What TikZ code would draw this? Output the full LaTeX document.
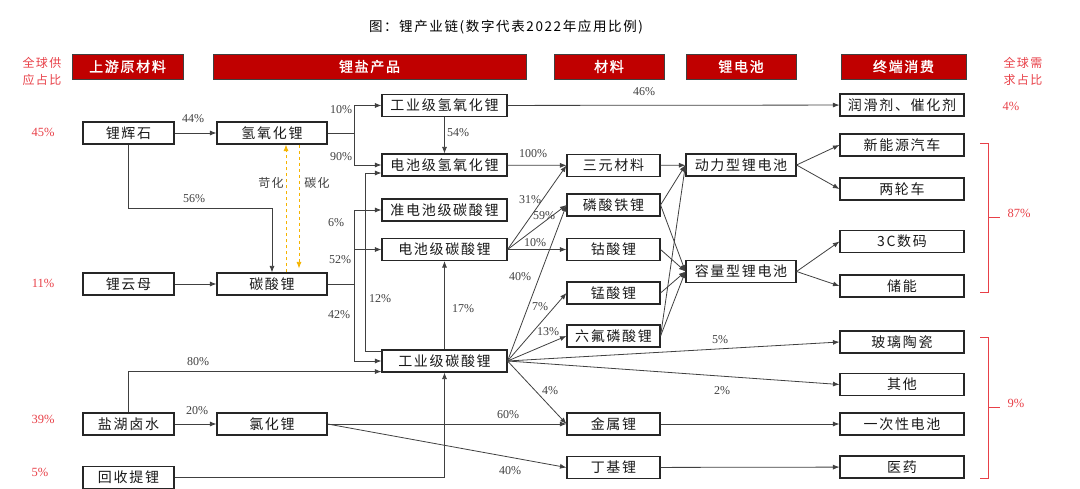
\documentclass[tikz,border=0pt]{standalone}
\usepackage{fontspec}
\setmainfont{Liberation Serif}
\newfontfamily\cjk{Noto Sans CJK SC}[LetterSpace=12]
\newfontfamily\cjkbold{Noto Sans CJK SC}[LetterSpace=12,FakeBold=1.5]
\usetikzlibrary{arrows.meta}
\definecolor{hdred}{RGB}{192,0,0}
\definecolor{pctred}{RGB}{232,64,72}
\definecolor{lineyel}{RGB}{245,180,0}
\newcommand{\boxfont}{\cjk\fontsize{14}{16}\selectfont}
\newcommand{\hdrfont}{\cjkbold\fontsize{14}{16}\selectfont}
\newcommand{\titlefont}{\cjk\fontsize{13.5}{16}\selectfont}
\newcommand{\sidefont}{\cjk\fontsize{12}{17}\selectfont}
\newcommand{\pctfont}{\fontsize{12}{14}\selectfont}
\newcommand{\sharefont}{\fontsize{12.5}{14}\selectfont}

\begin{document}
\begin{tikzpicture}[x=1pt,y=-1pt,>={Latex[length=6.5pt,width=5pt]},
  box/.style={draw=black!85,line width=1.1pt,minimum height=22pt,
    inner sep=0pt,font=\boxfont,text=black!90},
  hdr/.style={draw=black!75,fill=hdred,line width=0.8pt,minimum height=25pt,
    inner sep=0pt,text=white,font=\hdrfont},
  pct/.style={font=\pctfont,text=black!75,inner sep=0pt},
  share/.style={font=\sharefont,text=pctred,inner sep=0pt},
  flow/.style={draw=black!75,line width=0.8pt}]
  \useasboundingbox (0,0) rectangle (1080,489);
  \node (title) at (506,27) {\titlefont 图：锂产业链(数字代表2022年应用比例)};
  % headers
  \node[hdr,minimum width=111pt] (h1) at (127.5,66.5) {上游原材料};
  \node[hdr,minimum width=313pt] (h2) at (369.5,66.5) {锂盐产品};
  \node[hdr,minimum width=110pt] (h3) at (609,66.5)   {材料};
  \node[hdr,minimum width=110pt] (h4) at (741,66.5)   {锂电池};
  \node[hdr,minimum width=125pt] (h5) at (903.5,66.5) {终端消费};
  \node[share,font=\sidefont,align=center] (supply) at (42,71.5) {全球供\\应占比};
  \node[share,font=\sidefont,align=center] (demand) at (1023,71.5) {全球需\\求占比};
  % upstream
  \node[box,minimum width=91pt] (lhs)  at (128.5,133)   {锂辉石};
  \node[box,minimum width=91pt] (lym)  at (128.5,284)   {锂云母};
  \node[box,minimum width=91pt] (yhls) at (128.5,424)   {盐湖卤水};
  \node[box,minimum width=91pt] (hstl) at (128.5,477.5) {回收提锂};
  % lithium salts
  \node[box,minimum width=110pt] (qyhl) at (272,133) {氢氧化锂};
  \node[box,minimum width=110pt] (tsl)  at (272,284) {碳酸锂};
  \node[box,minimum width=110pt] (lhl)  at (272,424) {氯化锂};
  \node[box,minimum width=125pt] (gyq) at (444.5,105.5) {工业级氢氧化锂};
  \node[box,minimum width=125pt] (dcq) at (444.5,165)   {电池级氢氧化锂};
  \node[box,minimum width=125pt] (zdt) at (444.5,210)   {准电池级碳酸锂};
  \node[box,minimum width=125pt] (dct) at (444.5,249.5) {电池级碳酸锂};
  \node[box,minimum width=125pt] (gyt) at (444.5,361)   {工业级碳酸锂};
  % materials
  \node[box,minimum width=93pt] (sy)   at (613.5,165.5) {三元材料};
  \node[box,minimum width=93pt] (lsty) at (613.5,205)   {磷酸铁锂};
  \node[box,minimum width=93pt] (gsl)  at (613.5,249.5) {钴酸锂};
  \node[box,minimum width=93pt] (msl)  at (613.5,293)   {锰酸锂};
  \node[box,minimum width=93pt] (lfl)  at (613.5,336)   {六氟磷酸锂};
  \node[box,minimum width=93pt] (jsl)  at (613.5,424)   {金属锂};
  \node[box,minimum width=93pt] (djl)  at (613.5,467.5) {丁基锂};
  % batteries
  \node[box,minimum width=110pt] (dl) at (741,165)   {动力型锂电池};
  \node[box,minimum width=110pt] (rl) at (741,271.5) {容量型锂电池};
  % end use
  \node[box,minimum width=124pt] (rh)  at (902,105)   {润滑剂、催化剂};
  \node[box,minimum width=124pt] (xny) at (902,145)   {新能源汽车};
  \node[box,minimum width=124pt] (lk)  at (902,189)   {两轮车};
  \node[box,minimum width=124pt] (c3)  at (902,241.5) {3C数码};
  \node[box,minimum width=124pt] (cn)  at (902,286)   {储能};
  \node[box,minimum width=124pt] (bl)  at (902,342)   {玻璃陶瓷};
  \node[box,minimum width=124pt] (qt)  at (902,384.5) {其他};
  \node[box,minimum width=124pt] (yc)  at (902,424)   {一次性电池};
  \node[box,minimum width=124pt] (yy)  at (902,467)   {医药};
  % supply and demand shares
  \node[share] (s45) at (43,132)  {45\%};
  \node[share] (s11) at (43,283)  {11\%};
  \node[share] (s39) at (43,419)  {39\%};
  \node[share] (s5)  at (40,472)  {5\%};
  \node[share] (s4)  at (1011,106) {4\%};
  \node[share] (s87) at (1019,213) {87\%};
  \node[share] (s9)  at (1016,403) {9\%};
  \draw[pctred,line width=0.8pt] (980,143) -- (988,143) -- (988,292) -- (980,292);
  \draw[pctred,line width=0.8pt] (988,217) -- (1000,217);
  \draw[pctred,line width=0.8pt] (980,337) -- (988,337) -- (988,478) -- (980,478);
  \draw[pctred,line width=0.8pt] (988,407) -- (1000,407);
  % split points
  \coordinate (qsplit) at (354,133);
  \coordinate (tsplit) at (354,284);
  % upstream to salts
  \draw[flow,->] (lhs) -- (qyhl);
  \draw[flow,->] (lhs.south) -- ++(0,64) -| (tsl.north);
  \draw[flow,->] (lym) -- (tsl);
  \draw[flow,->] (yhls.north) |- ([yshift=1pt]gyt.south west);
  \draw[flow,->] (yhls) -- (lhl);
  \draw[flow,->] (hstl.east) -| (gyt.south);
  \draw[->,lineyel,dashed,line width=0.8pt] ([xshift=14pt]tsl.north) -- ([xshift=14pt]qyhl.south);
  \draw[->,lineyel,dashed,line width=0.8pt] ([xshift=27pt]qyhl.south) -- ([xshift=27pt,yshift=4pt]tsl.north);
  \node[pct] (l44) at (193,119) {44\%};
  \node[pct] (l56) at (194,199) {56\%};
  \node[pct] (l80) at (198,362) {80\%};
  \node[pct] (l20) at (197,411) {20\%};
  \node[pct,font=\cjk\fontsize{12}{14}\selectfont] (kh) at (271,183) {苛化};
  \node[pct,font=\cjk\fontsize{12}{14}\selectfont] (th) at (317,183) {碳化};
  % salts
  \draw[flow] (qyhl) -- (qsplit);
  \draw[flow,->] (qsplit) |- (gyq);
  \draw[flow,->] (qsplit) |- (dcq);
  \draw[flow,->] (gyq) -- (dcq);
  \draw[flow] (tsl) -- (tsplit);
  \draw[flow,->] (tsplit) |- (zdt);
  \draw[flow,->] (tsplit) |- (dct);
  \draw[flow,->] (tsplit) |- (gyt);
  \draw[flow,->] ([yshift=-2pt]gyt.north west) -- ++(-16,0) |- ([yshift=-8pt]dcq.west);
  \draw[flow,->] (gyt) -- (dct);
  \draw[flow,->] (lhl) -- (jsl);
  \draw[flow,->] (lhl.east) -- (djl.west);
  \node[pct] (l10a) at (341,110) {10\%};
  \node[pct] (l90)  at (341,157) {90\%};
  \node[pct] (l54)  at (458,133) {54\%};
  \node[pct] (l6)   at (336,223) {6\%};
  \node[pct] (l52)  at (340,260) {52\%};
  \node[pct] (l42)  at (339,315) {42\%};
  \node[pct] (l12)  at (380,299) {12\%};
  \node[pct] (l17)  at (463,309) {17\%};
  \node[pct] (l60)  at (508,415) {60\%};
  \node[pct] (l40b) at (510,471) {40\%};
  % salts to materials and end use
  \draw[flow,->] (gyq) -- (rh);
  \draw[flow,->] (dcq) -- (sy);
  \draw[flow,->] (dct.east) -- (sy.west);
  \draw[flow,->] (dct.east) -- (lsty.west);
  \draw[flow,->] (dct.east) -- (gsl.west);
  \draw[flow,->] (gyt.east) -- (lsty.west);
  \draw[flow,->] (gyt.east) -- (msl.west);
  \draw[flow,->] (gyt.east) -- (lfl.west);
  \draw[flow,->] (gyt.east) -- (bl.west);
  \draw[flow,->] (gyt.east) -- (qt.west);
  \draw[flow,->] (gyt.east) -- (jsl.west);
  \node[pct] (l46)  at (644,92)  {46\%};
  \node[pct] (l100) at (533,154) {100\%};
  \node[pct] (l31)  at (530,200) {31\%};
  \node[pct] (l59)  at (544,216) {59\%};
  \node[pct] (l10b) at (535,243) {10\%};
  \node[pct] (l40a) at (520,277) {40\%};
  \node[pct] (l7)   at (540,307) {7\%};
  \node[pct] (l13)  at (548,332) {13\%};
  \node[pct] (l5)   at (720,340) {5\%};
  \node[pct] (l2)   at (722,391) {2\%};
  \node[pct] (l4)   at (550,391) {4\%};
  % materials to batteries
  \draw[flow,->] (sy) -- (dl);
  \draw[flow,->] (lsty.east) -- (dl.west);
  \draw[flow,->] (lsty.east) -- (rl.west);
  \draw[flow,->] (gsl.east) -- (rl.west);
  \draw[flow,->] (msl.east) -- (rl.west);
  \draw[flow,->] (lfl.east) -- (dl.west);
  \draw[flow,->] (lfl.east) -- (rl.west);
  \draw[flow,->] (jsl) -- (yc);
  \draw[flow,->] (djl) -- (yy);
  % batteries to end use
  \draw[flow,->] (dl.east) -- (xny.west);
  \draw[flow,->] (dl.east) -- (lk.west);
  \draw[flow,->] (rl.east) -- (c3.west);
  \draw[flow,->] (rl.east) -- (cn.west);
\end{tikzpicture}
\end{document}
